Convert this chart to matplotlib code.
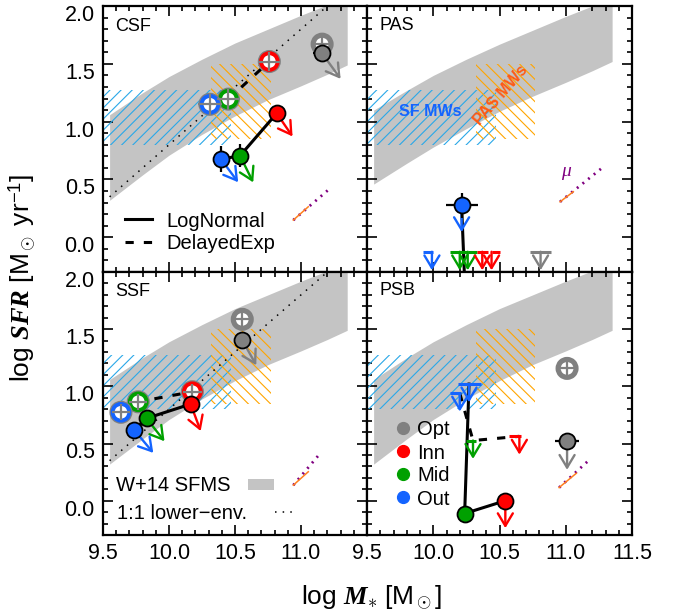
import matplotlib
matplotlib.use("Agg")
import matplotlib.pyplot as plt
from matplotlib import patheffects as pe
from matplotlib.ticker import MultipleLocator
from matplotlib.transforms import ScaledTranslation

plt.rcParams["font.family"] = ["Liberation Sans", "DejaVu Sans"]
plt.rcParams["mathtext.fontset"] = "custom"
plt.rcParams["mathtext.rm"] = "Liberation Sans"
plt.rcParams["mathtext.it"] = "Liberation Serif:italic"
plt.rcParams["mathtext.bf"] = "Liberation Serif:italic:bold"
plt.rcParams["hatch.linewidth"] = 0.8

# ---------------------------------------------------------------- colours
C_OPT, C_INN, C_MID, C_OUT = "#808080", "#ff0000", "#00a000", "#1464ff"
C_BAND = "#c4c4c4"
C_SFMW = "#2aa8e8"
C_PASMW = "#ffa500"
C_MU_SOLID = "#ff7f1e"
C_MU_DOT = "#800080"

region_names = ["Opt", "Inn", "Mid", "Out"]
region_colors = [C_OPT, C_INN, C_MID, C_OUT]

# ---------------------------------------------------------------- W+14 SFMS band
band_mass = [9.55, 9.80, 10.00, 10.25, 10.50, 10.75, 11.00, 11.20, 11.35]
band_lo = [0.32, 0.54, 0.71, 0.89, 1.05, 1.19, 1.31, 1.41, 1.49]
band_hi = [1.06, 1.25, 1.39, 1.54, 1.68, 1.80, 1.92, 2.01, 2.07]
pas_band_lo = [0.46, 0.64, 0.78, 0.94, 1.09, 1.22, 1.34, 1.44, 1.52]
pas_band_hi = [1.10, 1.27, 1.40, 1.54, 1.67, 1.79, 1.91, 2.00, 2.06]

# Milky-Way analogue boxes (mass range, SFR range)
sfmw_mass = [9.50, 10.47]
sfmw_sfr = [0.80, 1.27]
pasmw_mass = [10.32, 10.77]
pasmw_sfr = [0.85, 1.50]

# 1:1 lower envelope
env_mass = [9.55, 11.20]
env_sfr = [0.35, 2.00]

# ---------------------------------------------------------------- CSF
csf_ln_mass = [11.16, 10.816, 10.538, 10.394]
csf_ln_sfr = [1.59, 1.072, 0.705, 0.676]
csf_ln_xerr = [0.07, 0.04, 0.04, 0.04]
csf_ln_yerr = [0.04, 0.05, 0.10, 0.11]
csf_shift_dm = [0.14, 0.12, 0.10, 0.13]
csf_shift_ds = [-0.22, -0.20, -0.23, -0.20]
csf_de_mass = [11.16, 10.76, 10.45, 10.31]
csf_de_sfr = [1.67, 1.52, 1.195, 1.15]
csf_de_err = [0.08, 0.08, 0.09, 0.09]

# ---------------------------------------------------------------- SSF
ssf_ln_mass = [10.555, 10.164, 9.83, 9.737]
ssf_ln_sfr = [1.405, 0.845, 0.72, 0.618]
ssf_ln_xerr = [0.06, 0.04, 0.04, 0.04]
ssf_ln_yerr = [0.05, 0.05, 0.05, 0.05]
ssf_shift_dm = [0.106, 0.076, 0.136, 0.144]
ssf_shift_ds = [-0.22, -0.236, -0.20, -0.20]
ssf_de_mass = [10.555, 10.177, 9.767, 9.636]
ssf_de_sfr = [1.586, 0.953, 0.865, 0.773]
ssf_de_err = [0.07, 0.07, 0.07, 0.07]

# ---------------------------------------------------------------- PAS
pas_ln_mass = [10.214, 10.245]
pas_ln_sfr = [0.275, -0.60]
pas_det_mass = [10.214]
pas_det_sfr = [0.275]
pas_det_xerr = [0.12]
pas_det_yerr = [0.11]
pas_det_color = [C_OUT]
pas_det_ds = [-0.23]
pas_lim_mass = [9.99, 10.20, 10.26, 10.37, 10.44, 10.81]
pas_lim_sfr = [-0.125, -0.125, -0.125, -0.125, -0.125, -0.125]
pas_lim_xlo = [0.07, 0.07, 0.0, 0.04, 0.0, 0.08]
pas_lim_xhi = [0.01, 0.06, 0.07, 0.04, 0.06, 0.08]
pas_lim_color = [C_OUT, C_MID, C_MID, C_INN, C_INN, C_OPT]

# ---------------------------------------------------------------- PSB
psb_ln_mass = [10.27, 10.237, 10.544]
psb_ln_sfr = [1.02, -0.112, 0.0]
psb_de_mass = [10.20, 10.30, 10.65]
psb_de_sfr = [0.94, 0.526, 0.563]
psb_det_mass = [11.01, 10.544, 10.237]
psb_det_sfr = [0.52, 0.0, -0.112]
psb_det_xerr = [0.09, 0.0, 0.0]
psb_det_yerr = [0.0, 0.0, 0.0]
psb_det_color = [C_OPT, C_INN, C_MID]
psb_det_ds = [-0.25, -0.24, -0.245]
psb_open_mass = [11.01]
psb_open_sfr = [1.157]
psb_lim_mass = [10.27, 10.20, 10.30, 10.65]
psb_lim_sfr = [1.02, 0.94, 0.526, 0.563]
psb_lim_xlo = [0.08, 0.07, 0.055, 0.08]
psb_lim_xhi = [0.09, 0.01, 0.02, 0.01]
psb_lim_color = [C_OUT, C_OUT, C_MID, C_INN]

# ---------------------------------------------------------------- mu vectors
mu_start_mass = [10.942, 10.957, 10.942, 10.95]
mu_start_sfr = [0.149, 0.307, 0.136, 0.115]
mu_mid_mass = [11.055, 11.057, 11.055, 11.08]
mu_mid_sfr = [0.264, 0.394, 0.253, 0.24]
mu_end_mass = [11.22, 11.27, 11.15, 11.19]
mu_end_sfr = [0.423, 0.596, 0.42, 0.37]

LIM_LEN = 0.16
DASHED = (0, (2.7, 3.3))

# ---------------------------------------------------------------- figure
W, H = 689, 616
fig = plt.figure(figsize=(W / 100, H / 100), dpi=100)


def add_panel(x0, y0, x1, y1):
    return fig.add_axes([x0 / W, 1 - y1 / H, (x1 - x0) / W, (y1 - y0) / H])


ax_csf = add_panel(103, 6, 367, 272)
ax_pas = add_panel(367, 6, 632, 272)
ax_ssf = add_panel(103, 272, 367, 535)
ax_psb = add_panel(367, 272, 632, 535)

TICK_FS = 15.5
YLABEL_SHIFT = ScaledTranslation(0, -5 / 72, fig.dpi_scale_trans)


def style_axis(ax, show_x, show_y, last_x=True):
    ax.set_xlim(9.5, 11.5)
    ax.set_ylim(-0.3, 2.0)
    ax.xaxis.set_major_locator(MultipleLocator(0.5))
    ax.xaxis.set_minor_locator(MultipleLocator(0.1))
    ax.yaxis.set_major_locator(MultipleLocator(0.5))
    ax.yaxis.set_minor_locator(MultipleLocator(0.1))
    ax.tick_params(which="both", direction="in", top=True, right=True,
                   labelsize=TICK_FS, width=1.2, pad=6)
    ax.tick_params(which="major", length=7)
    ax.tick_params(which="minor", length=3.5)
    for sp in ax.spines.values():
        sp.set_linewidth(1.6)
    if show_x:
        ticks = [9.5, 10.0, 10.5, 11.0, 11.5]
        ax.set_xticks(ticks)
        labels = ["%.1f" % t for t in ticks]
        if not last_x:
            labels[-1] = ""
        ax.set_xticklabels(labels)
    else:
        ax.tick_params(labelbottom=False)
    if show_y:
        yt = [0.0, 0.5, 1.0, 1.5, 2.0]
        ax.set_yticks(yt)
        ax.set_yticklabels(["%.1f" % t for t in yt])
        for lab in ax.get_yticklabels():
            lab.set_transform(lab.get_transform() + YLABEL_SHIFT)
    else:
        ax.tick_params(labelleft=False)


style_axis(ax_csf, False, True)
style_axis(ax_pas, False, False)
style_axis(ax_ssf, True, True, last_x=False)
style_axis(ax_psb, True, False)


def draw_background(ax, lo, hi, dotted):
    ax.fill_between(band_mass, lo, hi, color=C_BAND, lw=0, zorder=1)
    ax.fill_between(sfmw_mass, sfmw_sfr[0], sfmw_sfr[1], facecolor="none",
                    edgecolor=C_SFMW, hatch="///", lw=0, zorder=2)
    ax.fill_between(pasmw_mass, pasmw_sfr[0], pasmw_sfr[1], facecolor="none",
                    edgecolor=C_PASMW, hatch="\\\\\\", lw=0, zorder=2)
    if dotted:
        ax.plot(env_mass, env_sfr, color="black", lw=1.1,
                ls=(0, (1, 4)), zorder=3)


def draw_mu(ax, i):
    ax.plot([mu_start_mass[i], mu_end_mass[i]], [mu_start_sfr[i], mu_end_sfr[i]],
            color=C_MU_DOT, lw=2.0, ls=(0, (0.7, 1.9)), zorder=3)
    ax.plot([mu_start_mass[i], mu_mid_mass[i]], [mu_start_sfr[i], mu_mid_sfr[i]],
            color=C_MU_SOLID, lw=1.1, zorder=3)


def arrow(ax, m, s, dm, ds, color, lw=1.7, z=4):
    ax.annotate("", xy=(m + dm, s + ds), xytext=(m, s),
                arrowprops=dict(arrowstyle="->,head_length=0.5,head_width=0.3",
                                color=color, lw=lw, shrinkA=0, shrinkB=0,
                                mutation_scale=18),
                zorder=z)


def filled(ax, m, s, xe, ye, color):
    ax.errorbar([m], [s], xerr=[xe], yerr=[ye], fmt="none", ecolor="black",
                elinewidth=1.6, capsize=0, zorder=6)
    ax.plot([m], [s], "o", ms=11.5, mfc=color, mec="black", mew=1.3, zorder=7)


def hollow(ax, m, s, err, color):
    ax.plot([m], [s], "o", ms=12, mfc="white", mec=color, mew=2.8, zorder=5,
            path_effects=[pe.withStroke(linewidth=4.6, foreground=C_OPT)])
    ax.errorbar([m], [s], xerr=[err], yerr=[err], fmt="none", ecolor=C_OPT,
                elinewidth=1.6, capsize=0, zorder=5.5)


def limit(ax, m, s, xlo, xhi, color):
    ax.plot([m - xlo, m + xhi], [s, s], color=color, lw=2.2, zorder=5,
            solid_capstyle="butt")
    arrow(ax, m, s, 0.0, -LIM_LEN, color, lw=1.7, z=5)


# ---------------------------------------------------------------- CSF / SSF
for ax, lnm, lns, lnxe, lnye, dm, ds, dem, des, dee, mu_i in [
        (ax_csf, csf_ln_mass, csf_ln_sfr, csf_ln_xerr, csf_ln_yerr,
         csf_shift_dm, csf_shift_ds, csf_de_mass, csf_de_sfr, csf_de_err, 0),
        (ax_ssf, ssf_ln_mass, ssf_ln_sfr, ssf_ln_xerr, ssf_ln_yerr,
         ssf_shift_dm, ssf_shift_ds, ssf_de_mass, ssf_de_sfr, ssf_de_err, 2)]:
    draw_background(ax, band_lo, band_hi, True)
    draw_mu(ax, mu_i)
    # radial profiles: Out -> Mid -> Inn
    ax.plot(dem[1:][::-1], des[1:][::-1], color="black", lw=2.2,
            ls=DASHED, zorder=4)
    ax.plot(lnm[1:][::-1], lns[1:][::-1], color="black", lw=2.2, zorder=4)
    for k in range(4):
        hollow(ax, dem[k], des[k], dee[k], region_colors[k])
    for k in range(4):
        arrow(ax, lnm[k], lns[k], dm[k], ds[k], region_colors[k])
    for k in range(4):
        filled(ax, lnm[k], lns[k], lnxe[k], lnye[k], region_colors[k])

# ---------------------------------------------------------------- PAS
draw_background(ax_pas, pas_band_lo, pas_band_hi, False)
draw_mu(ax_pas, 1)
ax_pas.plot(pas_ln_mass, pas_ln_sfr, color="black", lw=2.2, zorder=4)
for m, s, xlo, xhi, c in zip(pas_lim_mass, pas_lim_sfr, pas_lim_xlo,
                             pas_lim_xhi, pas_lim_color):
    limit(ax_pas, m, s, xlo, xhi, c)
for m, s, xe, ye, c, ds in zip(pas_det_mass, pas_det_sfr, pas_det_xerr,
                               pas_det_yerr, pas_det_color, pas_det_ds):
    arrow(ax_pas, m, s, 0.0, ds, c)
    filled(ax_pas, m, s, xe, ye, c)

# ---------------------------------------------------------------- PSB
draw_background(ax_psb, band_lo, band_hi, False)
draw_mu(ax_psb, 3)
ax_psb.plot(psb_ln_mass, psb_ln_sfr, color="black", lw=2.2, zorder=4)
ax_psb.plot(psb_de_mass, psb_de_sfr, color="black", lw=2.2,
            ls=DASHED, zorder=4)
for m, s in zip(psb_open_mass, psb_open_sfr):
    hollow(ax_psb, m, s, 0.07, C_OPT)
for m, s, xlo, xhi, c in zip(psb_lim_mass, psb_lim_sfr, psb_lim_xlo,
                             psb_lim_xhi, psb_lim_color):
    limit(ax_psb, m, s, xlo, xhi, c)
for m, s, xe, ye, c, ds in zip(psb_det_mass, psb_det_sfr, psb_det_xerr,
                               psb_det_yerr, psb_det_color, psb_det_ds):
    arrow(ax_psb, m, s, 0.0, ds, c)
    filled(ax_psb, m, s, xe, ye, c)

# ---------------------------------------------------------------- labels
LABEL_FS = 13
for ax, name, y in [(ax_csf, "CSF", 0.905), (ax_pas, "PAS", 0.91),
                    (ax_ssf, "SSF", 0.909), (ax_psb, "PSB", 0.912)]:
    ax.text(0.046, y, name, transform=ax.transAxes, fontsize=LABEL_FS,
            va="baseline", ha="left", zorder=10)

LEG_FS = 14.5
# LogNormal / DelayedExp key
ax_csf.plot([0.083, 0.184], [0.199, 0.199], transform=ax_csf.transAxes,
            color="black", lw=2.2)
ax_csf.plot([0.083, 0.184], [0.114, 0.114], transform=ax_csf.transAxes,
            color="black", lw=2.2, ls=DASHED)
ax_csf.text(0.241, 0.199, "LogNormal", transform=ax_csf.transAxes,
            fontsize=LEG_FS, va="center_baseline", ha="left")
ax_csf.text(0.241, 0.114, "DelayedExp", transform=ax_csf.transAxes,
            fontsize=LEG_FS, va="center_baseline", ha="left")

# SFMS / lower-envelope key
ax_ssf.text(0.049, 0.194, "W+14 SFMS", transform=ax_ssf.transAxes,
            fontsize=LEG_FS, va="center_baseline", ha="left")
ax_ssf.fill_between([0.55, 0.648], 0.171, 0.213, transform=ax_ssf.transAxes,
                    color=C_BAND, lw=0)
ax_ssf.text(0.052, 0.089, "1:1 lower\u2212env.", transform=ax_ssf.transAxes,
            fontsize=LEG_FS, va="center_baseline", ha="left")
ax_ssf.plot([0.652, 0.715], [0.086, 0.086], transform=ax_ssf.transAxes,
            color="black", lw=1.1, ls=(0, (1, 4)))

# region key
for k, yk in enumerate([0.408, 0.318, 0.233, 0.144]):
    ax_psb.plot([0.134], [yk], "o", ms=8.5, color=region_colors[k],
                transform=ax_psb.transAxes, zorder=8)
    ax_psb.text(0.189, yk, region_names[k], transform=ax_psb.transAxes,
                fontsize=LEG_FS, va="center_baseline", ha="left", zorder=8)

# Milky-Way analogue labels and mu marker
ax_pas.text(0.119, 0.587, "SF MWs", transform=ax_pas.transAxes, fontsize=11.5,
            fontweight="bold", color=C_OUT, ha="left", va="baseline", zorder=8)
ax_pas.text(0.505, 0.663, "PAS MWs", transform=ax_pas.transAxes, fontsize=11.5,
            fontweight="bold", color="#ff5a14", ha="center", va="center",
            rotation=49, rotation_mode="anchor", zorder=8)
ax_pas.text(0.754, 0.371, r"$\mu$", transform=ax_pas.transAxes, fontsize=14,
            color=C_MU_DOT, ha="center", va="center", zorder=8)

AXLABEL_FS = 19
fig.text(22 / W, 1 - 278 / H, r"log $\mathbf{SFR}$ [M$_\odot$ yr$^{-1}$]",
         rotation=90, ha="center", va="center", fontsize=AXLABEL_FS)
fig.text(371 / W, 1 - 598 / H, r"log $\mathbf{M}_{\ast}$ [M$_\odot$]",
         ha="center", va="center", fontsize=AXLABEL_FS)

fig.savefig("out.png", dpi=100)
